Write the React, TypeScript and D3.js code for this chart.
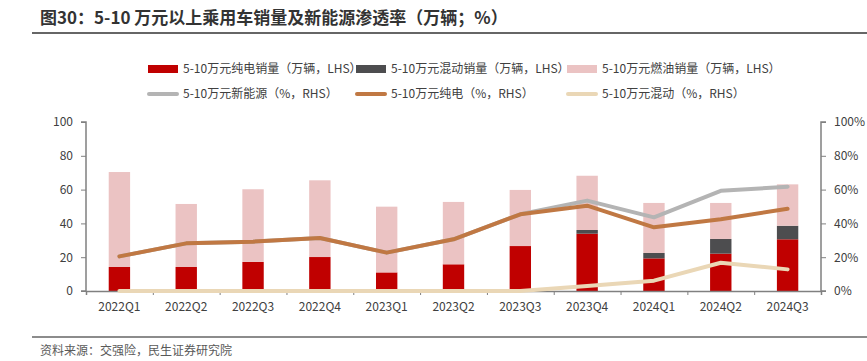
import React, { useEffect, useRef } from 'react';
import * as d3 from 'd3';

// quarterly sales, 万辆 (left axis)
const quarters = ['2022Q1', '2022Q2', '2022Q3', '2022Q4', '2023Q1', '2023Q2', '2023Q3', '2023Q4', '2024Q1', '2024Q2', '2024Q3'];
const evSales = [14.2, 14.2, 17.2, 20.1, 11.0, 15.8, 26.6, 33.9, 19.3, 22.1, 30.6];
const hybridSales = [0, 0, 0, 0, 0, 0, 0, 2.2, 3.2, 8.7, 8.0];
const fuelSales = [56.2, 37.3, 43.0, 45.4, 38.9, 36.9, 33.2, 32.1, 29.6, 21.3, 24.5];

// penetration, % (right axis)
const nevRate = [20.5, 28.2, 29.2, 31.4, 22.7, 30.6, 45.4, 53.5, 43.6, 59.3, 61.7];
const evRate = [20.5, 28.2, 29.2, 31.4, 22.7, 30.6, 45.4, 50.5, 37.7, 42.4, 48.7];
const hybridRate = [0, 0, 0, 0, 0, 0, 0, 3.0, 6.1, 16.7, 12.8];

const leftTicks = [0, 20, 40, 60, 80, 100];
const rightTicks = [0, 20, 40, 60, 80, 100];

const barKeys = ['ev', 'hybrid', 'fuel'];
const barColors = { ev: '#c00000', hybrid: '#4d4d4f', fuel: '#ebc3c3' };

const legendItems = [
  { label: '5-10万元纯电销量（万辆，LHS）', color: '#c00000', type: 'bar' },
  { label: '5-10万元混动销量（万辆，LHS）', color: '#4d4d4f', type: 'bar' },
  { label: '5-10万元燃油销量（万辆，LHS）', color: '#ebc3c3', type: 'bar' },
  { label: '5-10万元新能源（%，RHS）', color: '#b4b4b4', type: 'line' },
  { label: '5-10万元纯电（%，RHS）', color: '#c07843', type: 'line' },
  { label: '5-10万元混动（%，RHS）', color: '#ead7b6', type: 'line' },
];

const FONT = '"Noto Sans CJK SC", "Noto Sans", sans-serif';

const App = () => {
  const ref = useRef<SVGSVGElement>(null);

  useEffect(() => {
    const width = 867;
    const height = 361;
    const svg = d3.select(ref.current);
    svg.selectAll('*').remove();
    svg.attr('width', width).attr('height', height).style('font-family', FONT);

    const margin = { left: 86, right: 46, top: 122, bottom: 70 };

    // title
    svg.append('text')
      .attr('x', 40).attr('y', 24)
      .attr('font-size', 17).attr('font-weight', 'bold').attr('fill', '#333')
      .text('图30：5-10 万元以上乘用车销量及新能源渗透率（万辆；%）');
    svg.append('line')
      .attr('x1', 32).attr('x2', 867).attr('y1', 33).attr('y2', 33)
      .attr('stroke', '#666').attr('stroke-width', 2);

    // legend
    const legendCols = [148, 356, 567];
    const legendRows = [69, 94];
    legendItems.forEach((item, i) => {
      const g = svg.append('g')
        .attr('transform', `translate(${legendCols[i % 3]},${legendRows[Math.floor(i / 3)]})`);
      if (item.type === 'bar') {
        g.append('rect').attr('x', 0).attr('y', -4).attr('width', 30).attr('height', 8).attr('fill', item.color);
      } else {
        g.append('line').attr('x1', 1).attr('x2', 29).attr('y1', 0).attr('y2', 0)
          .attr('stroke', item.color).attr('stroke-width', 4).attr('stroke-linecap', 'round');
      }
      g.append('text').attr('x', 35).attr('y', 0).attr('dy', '0.35em')
        .attr('font-size', 12).attr('fill', '#404040').text(item.label);
    });

    const x = d3.scaleBand().domain(quarters).range([margin.left, width - margin.right]).paddingInner(0.68).paddingOuter(0.34);
    const xc = (q: string) => (x(q) as number) + x.bandwidth() / 2;
    const yL = d3.scaleLinear().domain([0, 100]).range([height - margin.bottom, margin.top]);
    const yR = d3.scaleLinear().domain([0, 100]).range([height - margin.bottom, margin.top]);

    // stacked bars
    const rows = quarters.map((q, i) => ({ q, ev: evSales[i], hybrid: hybridSales[i], fuel: fuelSales[i] }));
    const stack = d3.stack<any>().keys(barKeys)(rows);
    stack.forEach(layer => {
      svg.append('g').selectAll('rect').data(layer).enter().append('rect')
        .attr('x', d => x(d.data.q) as number)
        .attr('width', x.bandwidth())
        .attr('y', d => yL(d[1]))
        .attr('height', d => yL(d[0]) - yL(d[1]))
        .attr('fill', (barColors as any)[layer.key]);
    });

    // axes
    const axisColor = '#808080';
    const gL = svg.append('g').attr('transform', `translate(${margin.left},0)`)
      .call(d3.axisLeft(yL).tickValues(leftTicks).tickSize(5).tickPadding(8));
    const gR = svg.append('g').attr('transform', `translate(${width - margin.right},0)`)
      .call(d3.axisRight(yR).tickValues(rightTicks).tickSize(5).tickPadding(8).tickFormat(d => `${d}%`));
    const x0 = d3.scaleLinear().domain([0, quarters.length]).range([margin.left, width - margin.right]);
    const gX = svg.append('g').attr('transform', `translate(0,${height - margin.bottom})`)
      .call(d3.axisBottom(x0).tickValues(d3.range(quarters.length + 1)).tickSize(4).tickFormat(() => ''));
    svg.append('g').selectAll('text').data(quarters).enter().append('text')
      .attr('x', d => xc(d)).attr('y', height - margin.bottom + 20)
      .attr('text-anchor', 'middle').attr('font-size', 12).attr('fill', '#404040')
      .text(d => d);
    [gL, gR, gX].forEach(g => {
      g.select('.domain').attr('stroke', axisColor).attr('stroke-width', 1.5);
      g.selectAll('.tick line').attr('stroke', axisColor);
      g.selectAll('.tick text').attr('font-size', 12).attr('fill', '#404040').attr('font-family', FONT);
    });
    gL.select('.domain').attr('d', `M-5,${margin.top}H0V${height - margin.bottom}H-5`);
    gR.select('.domain').attr('d', `M5,${margin.top}H0V${height - margin.bottom}H5`);

    // lines
    const line = d3.line<number>().x((_, i) => xc(quarters[i])).y(d => yR(d));
    const series = [
      { data: nevRate, color: '#b4b4b4' },
      { data: evRate, color: '#c07843' },
      { data: hybridRate, color: '#ead7b6' },
    ];
    series.forEach(s => {
      svg.append('path').attr('d', line(s.data))
        .attr('fill', 'none').attr('stroke', s.color).attr('stroke-width', 4)
        .attr('stroke-linejoin', 'round').attr('stroke-linecap', 'round');
    });

    // footer
    svg.append('line')
      .attr('x1', 32).attr('x2', 867).attr('y1', 337).attr('y2', 337)
      .attr('stroke', '#666').attr('stroke-width', 1.5);
    svg.append('text')
      .attr('x', 40).attr('y', 355)
      .attr('font-size', 12).attr('fill', '#595959')
      .text('资料来源：交强险，民生证券研究院');
  }, []);

  return <svg ref={ref} style={{ position: 'absolute', left: 0, top: 0 }} />;
};

export default App;
